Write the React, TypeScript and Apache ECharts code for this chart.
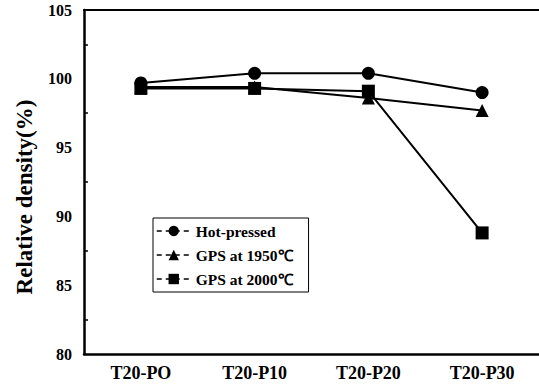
import React, { useEffect, useRef } from "react";
import * as echarts from "echarts";

const categories = ["T20-PO", "T20-P10", "T20-P20", "T20-P30"];
const hotPressed = [99.7, 100.4, 100.4, 99.0];
const gps1950 = [99.4, 99.4, 98.6, 97.7];
const gps2000 = [99.3, 99.3, 99.1, 88.8];
const seriesNames = ["Hot-pressed", "GPS at 1950\u2103", "GPS at 2000\u2103"];

const FONT = '"Times New Roman", "Liberation Serif", serif';

export default function App() {
  const ref = useRef<HTMLDivElement>(null);
  useEffect(() => {
    if (!ref.current) return;
    const chart = echarts.init(ref.current, null, { renderer: "svg" });
    const lineBase = (name: string, data: number[], symbol: string, size: number) => ({
      name,
      type: "line",
      data,
      symbol,
      symbolSize: size,
      showAllSymbol: true,
      lineStyle: { color: "#000", width: 2 },
      itemStyle: { color: "#000", borderWidth: 0 },
      emphasis: { disabled: true },
    });
    chart.setOption({
      animation: false,
      backgroundColor: "#fff",
      grid: { left: 84, right: -6, top: 10, bottom: 34 },
      legend: {
        orient: "vertical",
        left: 153,
        top: 218,
        padding: [5, 16, 5, 3],
        itemGap: 8,
        itemWidth: 34,
        itemHeight: 13,
        borderColor: "#000",
        borderWidth: 1,
        borderRadius: 0,
        backgroundColor: "#fff",
        data: seriesNames,
        lineStyle: { type: [5, 4], width: 1.5, color: "#000" },
        textStyle: { fontFamily: FONT, fontWeight: "bold", fontSize: 15.5, color: "#000" },
      },
      xAxis: [
        {
          type: "category",
          data: categories,
          boundaryGap: true,
          axisLine: { lineStyle: { color: "#000", width: 2.5 } },
          axisTick: { alignWithLabel: true, inside: true, length: 5, lineStyle: { width: 2, color: "#000" } },
          axisLabel: { fontFamily: FONT, fontWeight: "bold", fontSize: 18, color: "#000", margin: 10 },
          splitLine: { show: false },
        },
        {
          type: "category",
          data: categories,
          position: "top",
          axisLine: { lineStyle: { color: "#000", width: 2 } },
          axisTick: { show: false },
          axisLabel: { show: false },
          splitLine: { show: false },
        },
      ],
      yAxis: {
        type: "value",
        min: 80,
        max: 105,
        interval: 5,
        axisLine: { show: true, lineStyle: { color: "#000", width: 2.5 } },
        axisTick: { inside: true, length: 5, lineStyle: { width: 2, color: "#000" } },
        minorTick: { show: true, splitNumber: 2, length: 4, lineStyle: { width: 1.5, color: "#000" } },
        axisLabel: { fontFamily: FONT, fontWeight: "bold", fontSize: 16, color: "#000", margin: 12 },
        splitLine: { show: false },
      },
      graphic: [
        {
          type: "text",
          x: 24,
          y: 197,
          rotation: Math.PI / 2,
          style: {
            text: "Relative density(%)",
            font: `bold 23px ${FONT}`,
            fill: "#000",
            textAlign: "center",
            textVerticalAlign: "middle",
          },
        },
      ],
      series: [
        lineBase(seriesNames[0], hotPressed, "circle", 13),
        lineBase(seriesNames[1], gps1950, "triangle", 13),
        lineBase(seriesNames[2], gps2000, "rect", 13),
      ],
    });
    return () => chart.dispose();
  }, []);
  return (
    <div
      ref={ref}
      style={{ position: "absolute", left: 0, top: 0, width: 539, height: 388 }}
    />
  );
}
